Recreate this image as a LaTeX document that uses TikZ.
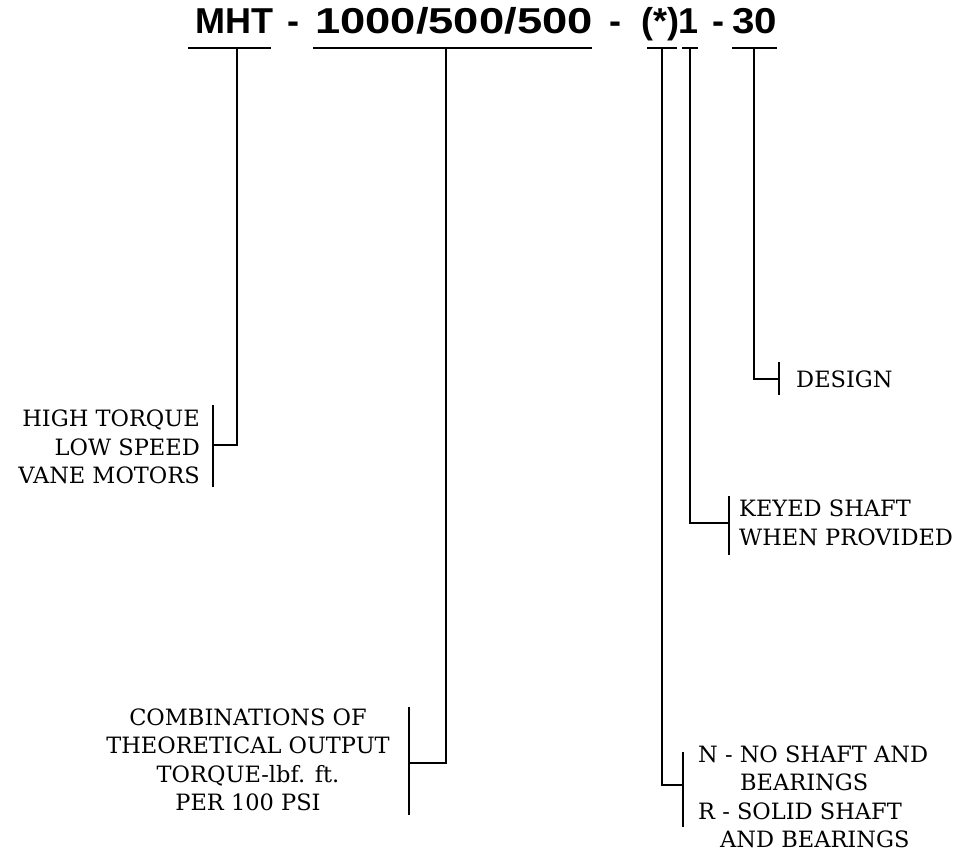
\documentclass[tikz,border=0pt]{standalone}
\usepackage{fontspec}
\usepackage{graphicx}
\usepackage{tikz}
\usetikzlibrary{positioning}
\newfontfamily\hdrfont{Liberation Sans}
\newfontfamily\lblfont{DejaVu Serif}
\newcommand{\wide}[2]{\scalebox{#1}[1]{#2}}

\begin{document}
\begin{tikzpicture}[
    x=1pt, y=-1pt,
    hdr/.style={font=\hdrfont\bfseries\fontsize{36}{40}\selectfont, inner sep=0, anchor=base},
    lbl/.style={font=\lblfont\fontsize{22.5}{28.5}\selectfont, inner sep=0},
    uline/.style={line width=2pt},
    wire/.style={line width=1.9pt}
  ]
  \useasboundingbox (0,0) rectangle (969,858);
  % model code
  \node[hdr] (mht) at (234.5,34) {MHT};
  \node[hdr] (d1) at (293,34) {-};
  \node[hdr] (torq) at (454,34) {\wide{1.26}{1000/500/500}};
  \node[hdr] (d2) at (615,34) {-};
  \node[hdr] (shaft) at (660,34) {(*)};
  \node[hdr] (key) at (689,34) {1};
  \node[hdr] (d3) at (718,34) {-};
  \node[hdr] (des) at (754.5,34) {\wide{1.12}{30}};

  % underlines and stem tops
  \draw[uline] (188,48) -- (271,48);
  \draw[uline] (313,48) -- (592,48);
  \draw[uline] (647,48) -- (677,48);
  \draw[uline] (682,48) -- (698,48);
  \draw[uline] (732,48) -- (777,48);
  \coordinate (s1) at (237,48);
  \coordinate (s2) at (446,48);
  \coordinate (s3) at (662,48);
  \coordinate (s4) at (690,48);
  \coordinate (s5) at (754,48);

  % elbows at the brackets
  \coordinate (k1) at (213,445);
  \coordinate (k2) at (409,763);
  \coordinate (k3) at (683,785);
  \coordinate (k4) at (729,523);
  \coordinate (k5) at (779,379);

  % descriptions
  \node[lbl, align=right, anchor=east] (motor) at (200,447) {HIGH TORQUE\\LOW SPEED\\VANE MOTORS};
  \node[lbl, align=center] (comb) at (248,760) {COMBINATIONS OF\\THEORETICAL OUTPUT\\TORQUE-lbf. ft.\\PER 100 PSI};
  \node[lbl, align=left, anchor=west] (opt) at (698,797) {N - NO SHAFT AND\\\hspace*{42pt}BEARINGS\\R - SOLID SHAFT\\\hspace*{22pt}AND BEARINGS};
  \node[lbl, align=left, anchor=west] (keyed) at (739,523) {KEYED SHAFT\\WHEN PROVIDED};
  \node[lbl, anchor=west] (design) at (796,379) {DESIGN};

  % stems
  \draw[wire] (s1) |- (k1);
  \draw[wire] (s2) |- (k2);
  \draw[wire] (s3) |- (k3);
  \draw[wire] (s4) |- (k4);
  \draw[wire] (s5) |- (k5);

  % brackets
  \draw[wire] ([yshift=40pt]k1) -- ([yshift=-42pt]k1);
  \draw[wire] ([yshift=56pt]k2) -- ([yshift=-52pt]k2);
  \draw[wire] ([yshift=33pt]k3) -- ([yshift=-42pt]k3);
  \draw[wire] ([yshift=27pt]k4) -- ([yshift=-32pt]k4);
  \draw[wire] ([yshift=17pt]k5) -- ([yshift=-16pt]k5);
\end{tikzpicture}
\end{document}
